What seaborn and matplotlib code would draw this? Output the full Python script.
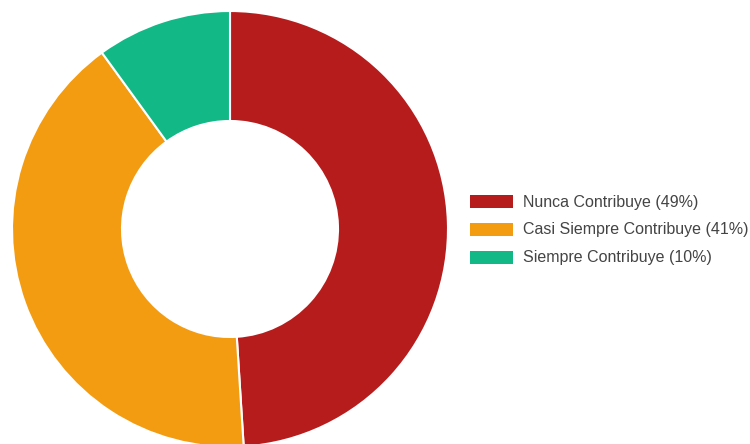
import matplotlib
matplotlib.use("Agg")
import matplotlib.pyplot as plt
from matplotlib.patches import Rectangle
import seaborn as sns

categories = ["Nunca Contribuye", "Casi Siempre Contribuye", "Siempre Contribuye"]
values = [49, 41, 10]
colors = ["#b71c1c", "#f39c12", "#12b886"]

sns.set_theme(style="white")
plt.rcParams["font.family"] = ["Liberation Sans", "DejaVu Sans"]

W, H = 750, 444
fig = plt.figure(figsize=(W / 100, H / 100), dpi=100)
fig.patch.set_facecolor("white")

# donut axes: centre (230, 229) px from top-left, outer radius 218 px
cx, cy, r = 230, 229, 218
ax = fig.add_axes([(cx - r) / W, (H - cy - r) / H, 2 * r / W, 2 * r / H])
ax.pie(values, colors=colors, startangle=90, counterclock=False,
       radius=1.0,
       wedgeprops=dict(width=1 - 108 / 218, edgecolor="white", linewidth=1.5))
ax.set_xlim(-1, 1)
ax.set_ylim(-1, 1)
ax.set_aspect("equal")
ax.axis("off")

# legend on the right
x0, y0, dy = 470, 202, 27.5
for i, (cat, val, col) in enumerate(zip(categories, values, colors)):
    yc = y0 + i * dy
    fig.patches.append(Rectangle((x0 / W, (H - yc - 6.5) / H), 43 / W, 13 / H,
                                 transform=fig.transFigure, facecolor=col,
                                 edgecolor="none"))
    fig.text(523 / W, (H - yc) / H, f"{cat} ({val}%)", fontsize=11.5,
             color="#444444", va="center", ha="left")

fig.savefig("out.png", dpi=100)
